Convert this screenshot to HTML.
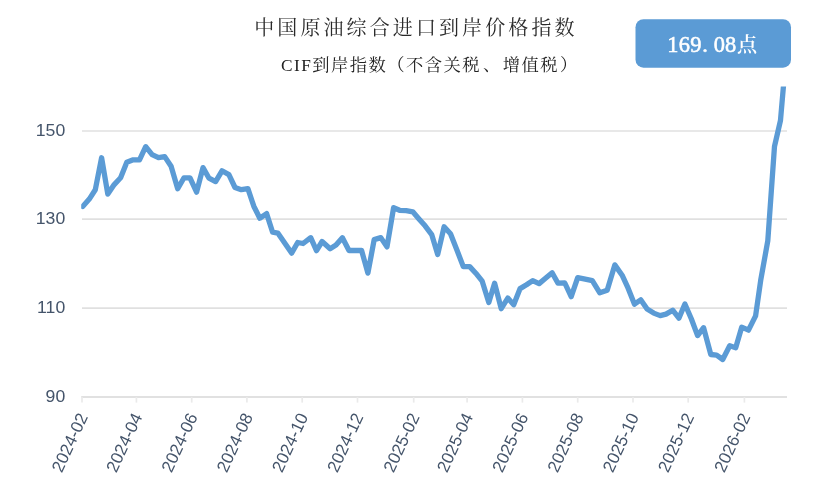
<!DOCTYPE html>
<html lang="zh-CN">
<head>
<meta charset="utf-8">
<title>中国原油综合进口到岸价格指数</title>
<style>
html,body{margin:0;padding:0;background:#fff;}
body{width:817px;height:502px;overflow:hidden;position:relative;}
svg{display:block;position:absolute;left:0;top:0;}
.ax{font-family:"Liberation Sans",sans-serif;font-size:16.8px;fill:#44546A;}
.axx{font-size:17.1px;}
.title{font-family:"Liberation Serif","Noto Serif CJK SC",serif;font-weight:400;font-size:20px;letter-spacing:3.1px;fill:#2a2a2a;}
.sub{font-family:"Liberation Serif","Noto Serif CJK SC",serif;font-weight:400;font-size:17.3px;letter-spacing:1.45px;fill:#222;}
.val{font-family:"Liberation Serif","Noto Serif CJK SC",serif;font-weight:400;font-size:22.4px;fill:#fff;stroke:#fff;stroke-width:0.55px;}
.dg{letter-spacing:0;}
.cj{font-size:20.2px;font-weight:600;stroke-width:0;}
</style>
</head>
<body>
<svg width="817" height="502" viewBox="0 0 817 502">
<defs><clipPath id="plot"><rect x="81.2" y="86.6" width="708" height="312"/></clipPath></defs>
<rect x="0" y="0" width="817" height="502" fill="#ffffff"/>
<line x1="82" y1="131" x2="787" y2="131" stroke="#E0E0E0" stroke-width="1.7"/>
<line x1="82" y1="219.1" x2="787" y2="219.1" stroke="#E0E0E0" stroke-width="1.7"/>
<line x1="82" y1="308.1" x2="787" y2="308.1" stroke="#E0E0E0" stroke-width="1.7"/>
<line x1="81.2" y1="397" x2="787" y2="397" stroke="#E1E1E1" stroke-width="2"/>
<line x1="82.0" y1="397" x2="82.0" y2="402.6" stroke="#EAEAEA" stroke-width="1.7"/>
<line x1="136.4" y1="397" x2="136.4" y2="402.6" stroke="#EAEAEA" stroke-width="1.7"/>
<line x1="191.7" y1="397" x2="191.7" y2="402.6" stroke="#EAEAEA" stroke-width="1.7"/>
<line x1="246.9" y1="397" x2="246.9" y2="402.6" stroke="#EAEAEA" stroke-width="1.7"/>
<line x1="302.2" y1="397" x2="302.2" y2="402.6" stroke="#EAEAEA" stroke-width="1.7"/>
<line x1="357.5" y1="397" x2="357.5" y2="402.6" stroke="#EAEAEA" stroke-width="1.7"/>
<line x1="413.7" y1="397" x2="413.7" y2="402.6" stroke="#EAEAEA" stroke-width="1.7"/>
<line x1="467.1" y1="397" x2="467.1" y2="402.6" stroke="#EAEAEA" stroke-width="1.7"/>
<line x1="522.4" y1="397" x2="522.4" y2="402.6" stroke="#EAEAEA" stroke-width="1.7"/>
<line x1="577.7" y1="397" x2="577.7" y2="402.6" stroke="#EAEAEA" stroke-width="1.7"/>
<line x1="633.0" y1="397" x2="633.0" y2="402.6" stroke="#EAEAEA" stroke-width="1.7"/>
<line x1="688.2" y1="397" x2="688.2" y2="402.6" stroke="#EAEAEA" stroke-width="1.7"/>
<line x1="744.4" y1="397" x2="744.4" y2="402.6" stroke="#EAEAEA" stroke-width="1.7"/>
<polyline clip-path="url(#plot)" fill="none" stroke="#5B9BD5" stroke-width="5.3" stroke-linejoin="round" stroke-linecap="round" points="82.7,206.5 89.3,199.1 95.3,189.8 101.6,157.8 107.8,194.1 114.2,184.6 120.6,177.8 126.8,162.2 133.2,159.8 139.5,159.8 145.7,146.7 152.1,154.6 158.5,157.6 164.7,156.6 171.1,166.2 177.7,188.8 184.0,177.8 190.0,177.8 196.6,192.2 203.0,167.6 209.0,178.2 215.6,181.6 222.0,170.8 228.9,174.6 235.0,187.5 241.3,189.7 247.9,188.7 253.8,206.2 259.8,218.2 266.6,213.6 272.6,232.2 277.8,233.1 291.6,253.1 297.7,242.5 303.1,243.5 310.7,237.7 316.5,250.7 322.1,241.5 330.1,248.7 336.0,245.1 342.4,237.7 349.0,250.5 355.4,250.5 361.6,250.5 367.9,273.1 374.2,239.6 380.8,237.6 387.0,246.9 393.6,207.7 399.6,210.3 406.2,210.7 412.8,211.8 419.2,219.2 425.1,225.8 431.7,234.6 437.7,254.5 444.1,226.8 450.5,233.8 457.0,250.3 463.3,266.6 469.7,266.6 475.8,273.2 482.2,281.2 488.8,302.5 494.6,283.2 501.2,308.7 507.8,298.1 513.7,304.7 520.1,288.6 526.5,284.8 532.7,280.6 539.1,283.6 545.5,278.2 552.1,272.8 558.0,283.2 564.8,283.0 571.2,296.7 577.7,277.7 585.2,279.2 592.3,280.7 599.8,292.8 607.2,290.2 614.8,264.9 622.1,275.2 628.1,288.2 634.5,304.2 640.7,299.8 647.1,309.1 653.7,313.1 660.2,315.6 666.0,314.1 672.7,310.2 678.9,318.2 684.9,304.0 691.3,318.7 697.6,335.6 703.6,327.7 710.8,354.5 716.6,355.1 722.7,359.5 729.7,345.7 735.7,347.7 741.7,327.2 748.5,330.2 755.6,315.8 760.7,280.3 767.8,240.8 774.5,146.3 780.5,120.3 786.9,46.3"/>
<rect x="635.5" y="19.2" width="155.5" height="48.5" rx="8" ry="8" fill="#5B9BD5"/>
<text class="val" y="52.3"><tspan class="dg" x="667.2 678.7 690.2 702.2 713.7 725">169.08</tspan><tspan class="cj" x="737.1" y="51.8">点</tspan></text>
<text class="title" x="254.2" y="35">中国原油综合进口到岸价格指数</text>
<text class="sub" x="281" y="70.5" dx="0 0 0 0 0 0 0 0 0 0 0 0 2 1.2 0 0 1">CIF到岸指数（不含关税、增值税）</text>
<text class="ax" text-anchor="end" transform="translate(65.2 136.2) scale(1.05 1)">150</text>
<text class="ax" text-anchor="end" transform="translate(65.2 224.3) scale(1.05 1)">130</text>
<text class="ax" text-anchor="end" transform="translate(65.2 313.3) scale(1.05 1)">110</text>
<text class="ax" text-anchor="end" transform="translate(65.2 402.2) scale(1.05 1)">90</text>
<text class="ax axx" text-anchor="end" transform="translate(88.3 416.6) rotate(-65)">2024-02</text>
<text class="ax axx" text-anchor="end" transform="translate(142.7 416.6) rotate(-65)">2024-04</text>
<text class="ax axx" text-anchor="end" transform="translate(198.0 416.6) rotate(-65)">2024-06</text>
<text class="ax axx" text-anchor="end" transform="translate(253.2 416.6) rotate(-65)">2024-08</text>
<text class="ax axx" text-anchor="end" transform="translate(308.5 416.6) rotate(-65)">2024-10</text>
<text class="ax axx" text-anchor="end" transform="translate(363.8 416.6) rotate(-65)">2024-12</text>
<text class="ax axx" text-anchor="end" transform="translate(420.0 416.6) rotate(-65)">2025-02</text>
<text class="ax axx" text-anchor="end" transform="translate(473.4 416.6) rotate(-65)">2025-04</text>
<text class="ax axx" text-anchor="end" transform="translate(528.7 416.6) rotate(-65)">2025-06</text>
<text class="ax axx" text-anchor="end" transform="translate(584.0 416.6) rotate(-65)">2025-08</text>
<text class="ax axx" text-anchor="end" transform="translate(639.3 416.6) rotate(-65)">2025-10</text>
<text class="ax axx" text-anchor="end" transform="translate(694.5 416.6) rotate(-65)">2025-12</text>
<text class="ax axx" text-anchor="end" transform="translate(750.7 416.6) rotate(-65)">2026-02</text>
</svg>
</body>
</html>
